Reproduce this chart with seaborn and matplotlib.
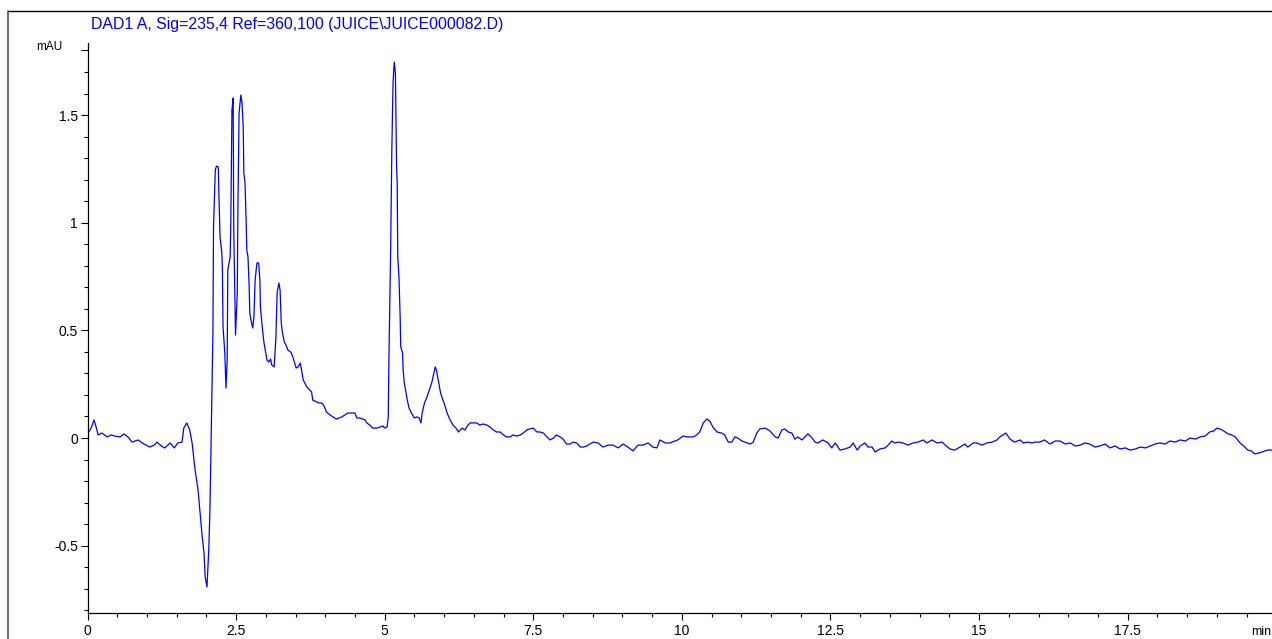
import numpy as np
import pandas as pd
import matplotlib
matplotlib.use("Agg")
import matplotlib.pyplot as plt
from matplotlib.lines import Line2D
from matplotlib.ticker import MultipleLocator
import seaborn as sns

# ---- data (retention time in min, absorbance in mAU) ----
time_min = [
    0.01, 0.06, 0.11, 0.14, 0.18, 0.24, 0.33, 0.40, 0.46, 0.55, 0.61, 0.68, 0.75, 0.85, 0.95,
    1.05, 1.12, 1.17, 1.24, 1.30, 1.39, 1.46, 1.52, 1.59, 1.62, 1.67, 1.72, 1.76, 1.81, 1.86,
    1.89, 1.93, 1.96, 1.98, 2.01, 2.04, 2.06, 2.09, 2.11, 2.12, 2.15, 2.17, 2.20, 2.21, 2.23,
    2.26, 2.27, 2.28, 2.31, 2.33, 2.35, 2.36, 2.40, 2.41, 2.43, 2.45, 2.46, 2.49, 2.52, 2.53,
    2.55, 2.58, 2.60, 2.62, 2.63, 2.65, 2.67, 2.68, 2.70, 2.72, 2.73, 2.76, 2.78, 2.80, 2.82,
    2.85, 2.88, 2.90, 2.91, 2.94, 2.95, 2.97, 3.00, 3.02, 3.05, 3.08, 3.10, 3.14, 3.15, 3.17,
    3.19, 3.22, 3.24, 3.26, 3.28, 3.31, 3.34, 3.37, 3.42, 3.46, 3.51, 3.54, 3.58, 3.60, 3.63,
    3.69, 3.77, 3.79, 3.86, 3.89, 3.94, 3.98, 4.02, 4.08, 4.13, 4.19, 4.23, 4.28, 4.33, 4.38,
    4.44, 4.50, 4.53, 4.58, 4.67, 4.70, 4.75, 4.80, 4.87, 4.92, 4.97, 5.00, 5.04, 5.06, 5.07,
    5.10, 5.12, 5.14, 5.16, 5.18, 5.20, 5.21, 5.22, 5.24, 5.26, 5.27, 5.30, 5.31, 5.33, 5.36,
    5.38, 5.41, 5.45, 5.50, 5.54, 5.58, 5.61, 5.63, 5.67, 5.71, 5.75, 5.79, 5.82, 5.85, 5.87,
    5.90, 5.94, 5.98, 6.01, 6.05, 6.10, 6.15, 6.20, 6.24, 6.30, 6.35, 6.40, 6.44, 6.49, 6.55,
    6.60, 6.66, 6.72, 6.77, 6.83, 6.88, 6.94, 7.00, 7.05, 7.11, 7.16, 7.22, 7.28, 7.33, 7.39,
    7.44, 7.50, 7.56, 7.61, 7.67, 7.73, 7.78, 7.84, 7.89, 7.95, 8.00, 8.06, 8.12, 8.17, 8.23,
    8.29, 8.34, 8.40, 8.45, 8.51, 8.59, 8.67, 8.76, 8.84, 8.93, 9.01, 9.09, 9.18, 9.26, 9.35,
    9.43, 9.51, 9.58, 9.63, 9.72, 9.80, 9.88, 9.93, 10.02, 10.10, 10.19, 10.25, 10.30, 10.36, 10.42,
    10.47, 10.52, 10.59, 10.67, 10.72, 10.78, 10.84, 10.89, 10.94, 11.01, 11.06, 11.15, 11.20, 11.26, 11.31,
    11.40, 11.48, 11.57, 11.62, 11.68, 11.73, 11.79, 11.85, 11.90, 11.95, 12.02, 12.07, 12.12, 12.19, 12.24,
    12.29, 12.37, 12.46, 12.52, 12.58, 12.66, 12.74, 12.83, 12.88, 12.95, 13.00, 13.08, 13.13, 13.20, 13.25,
    13.33, 13.42, 13.47, 13.53, 13.58, 13.64, 13.72, 13.80, 13.89, 13.97, 14.06, 14.12, 14.21, 14.29, 14.38,
    14.43, 14.51, 14.59, 14.68, 14.76, 14.81, 14.90, 14.96, 15.05, 15.13, 15.22, 15.30, 15.35, 15.40, 15.45,
    15.52, 15.60, 15.69, 15.74, 15.82, 15.89, 15.94, 16.02, 16.10, 16.19, 16.28, 16.36, 16.45, 16.53, 16.62,
    16.70, 16.78, 16.86, 16.95, 17.03, 17.12, 17.20, 17.29, 17.37, 17.46, 17.54, 17.63, 17.71, 17.80, 17.88,
    17.96, 18.04, 18.13, 18.21, 18.30, 18.38, 18.47, 18.55, 18.64, 18.72, 18.80, 18.88, 18.95, 19.00, 19.05,
    19.09, 19.14, 19.19, 19.25, 19.31, 19.39, 19.45, 19.52, 19.58, 19.64, 19.70, 19.76, 19.81, 19.86, 19.93,
]
absorbance_mau = [
    0.023, 0.046, 0.084, 0.056, 0.014, 0.023, 0.005, 0.014, 0.009, 0.005, 0.019, 0.005, -0.019, -0.009, -0.028,
    -0.042, -0.033, -0.019, -0.037, -0.046, -0.023, -0.046, -0.023, -0.019, 0.046, 0.070, 0.037, -0.023, -0.149, -0.242,
    -0.334, -0.460, -0.534, -0.646, -0.692, -0.520, -0.334, 0.176, 0.488, 0.980, 1.245, 1.263, 1.259, 1.138, 0.934,
    0.859, 0.780, 0.516, 0.395, 0.232, 0.362, 0.780, 0.841, 0.980, 1.523, 1.579, 0.980, 0.478, 0.673, 1.059,
    1.510, 1.593, 1.556, 1.444, 1.231, 1.184, 0.999, 0.873, 0.841, 0.701, 0.581, 0.534, 0.511, 0.562, 0.734,
    0.813, 0.813, 0.734, 0.604, 0.516, 0.488, 0.441, 0.395, 0.362, 0.353, 0.367, 0.339, 0.330, 0.376, 0.469,
    0.673, 0.720, 0.687, 0.534, 0.488, 0.446, 0.432, 0.409, 0.399, 0.372, 0.325, 0.330, 0.348, 0.316, 0.269,
    0.237, 0.214, 0.176, 0.167, 0.163, 0.163, 0.149, 0.121, 0.107, 0.098, 0.088, 0.093, 0.098, 0.107, 0.116,
    0.116, 0.116, 0.093, 0.093, 0.084, 0.070, 0.060, 0.046, 0.046, 0.051, 0.056, 0.046, 0.051, 0.098, 0.348,
    0.873, 1.338, 1.649, 1.746, 1.695, 1.259, 1.184, 0.841, 0.748, 0.562, 0.423, 0.395, 0.316, 0.255, 0.209,
    0.176, 0.139, 0.116, 0.093, 0.098, 0.093, 0.070, 0.116, 0.163, 0.190, 0.223, 0.255, 0.293, 0.330, 0.316,
    0.269, 0.209, 0.176, 0.153, 0.116, 0.084, 0.060, 0.046, 0.028, 0.046, 0.037, 0.060, 0.070, 0.070, 0.070,
    0.060, 0.065, 0.060, 0.051, 0.037, 0.028, 0.028, 0.014, 0.005, 0.005, 0.014, 0.009, 0.014, 0.023, 0.037,
    0.042, 0.046, 0.028, 0.028, 0.023, 0.005, -0.009, 0.000, 0.014, 0.005, -0.005, -0.028, -0.028, -0.019, -0.023,
    -0.042, -0.042, -0.037, -0.028, -0.019, -0.023, -0.042, -0.033, -0.033, -0.046, -0.028, -0.042, -0.060, -0.033, -0.033,
    -0.023, -0.042, -0.046, -0.009, -0.023, -0.023, -0.014, -0.009, 0.009, 0.005, 0.005, 0.014, 0.028, 0.070, 0.088,
    0.079, 0.051, 0.028, 0.023, 0.014, -0.019, -0.019, 0.005, 0.000, -0.014, -0.019, -0.028, -0.019, 0.023, 0.042,
    0.046, 0.033, 0.005, 0.000, 0.037, 0.042, 0.028, 0.023, -0.005, 0.005, -0.009, 0.005, 0.019, 0.000, -0.019,
    -0.023, -0.009, -0.023, -0.046, -0.023, -0.056, -0.051, -0.042, -0.023, -0.056, -0.037, -0.023, -0.042, -0.042, -0.065,
    -0.051, -0.046, -0.033, -0.014, -0.023, -0.019, -0.023, -0.033, -0.023, -0.019, -0.009, -0.023, -0.009, -0.023, -0.019,
    -0.033, -0.051, -0.056, -0.042, -0.028, -0.042, -0.023, -0.023, -0.033, -0.023, -0.019, -0.009, 0.005, 0.014, 0.023,
    -0.005, -0.019, -0.009, -0.023, -0.019, -0.023, -0.019, -0.019, -0.009, -0.028, -0.014, -0.014, -0.028, -0.023, -0.037,
    -0.033, -0.023, -0.028, -0.042, -0.037, -0.028, -0.046, -0.037, -0.051, -0.046, -0.056, -0.051, -0.042, -0.046, -0.037,
    -0.028, -0.023, -0.028, -0.014, -0.019, -0.009, -0.014, 0.000, -0.005, 0.005, 0.009, 0.028, 0.033, 0.046, 0.042,
    0.037, 0.028, 0.019, 0.014, 0.005, -0.023, -0.037, -0.056, -0.060, -0.074, -0.070, -0.065, -0.060, -0.056, -0.056,
]

x_major_ticks = [0, 2.5, 5, 7.5, 10, 12.5, 15, 17.5]
x_major_labels = ["0", "2.5", "5", "7.5", "10", "12.5", "15", "17.5"]
y_major_ticks = [-0.5, 0, 0.5, 1, 1.5, 1.8]
y_major_labels = ["-0.5", "0", "0.5", "1", "1.5", ""]
y_unit = "mAU"
title_text = "DAD1 A, Sig=235,4 Ref=360,100 (JUICE\\JUICE000082.D)"
x_unit = "min"

df = pd.DataFrame({"t": time_min, "mAU": absorbance_mau})

sns.set_style("ticks")
plt.rcParams["font.family"] = ["Liberation Sans", "DejaVu Sans"]

W, H = 1272, 639
fig = plt.figure(figsize=(W / 100, H / 100), dpi=100)
ax = fig.add_axes([87.5 / W, (H - 613) / H, 1 - 87.5 / W, (613 - 43) / H])

sns.lineplot(data=df, x="t", y="mAU", ax=ax, color="#0000ff", linewidth=0.9,
             estimator=None, sort=False)

ax.set_xlim(0, (W - 87.5) / 59.44)
ax.set_ylim((438 - 613) / 215.3, (438 - 43) / 215.3)

ax.set_xticks(x_major_ticks)
ax.set_xticklabels(x_major_labels)
ax.xaxis.set_minor_locator(MultipleLocator(0.5))
ax.set_yticks(y_major_ticks)
ax.set_yticklabels(y_major_labels)
ax.yaxis.set_minor_locator(MultipleLocator(0.1))

ax.tick_params(axis="both", which="major", direction="out", length=5, width=0.8,
               color="black", labelsize=10, labelcolor="black", pad=2)
ax.tick_params(axis="both", which="minor", direction="out", length=3, width=0.8,
               color="black")
ax.tick_params(axis="x", which="major", pad=3)

for s in ["top", "right"]:
    ax.spines[s].set_visible(False)
for s in ["left", "bottom"]:
    ax.spines[s].set_color("black")
    ax.spines[s].set_linewidth(0.9)

ax.set_xlabel("")
ax.set_ylabel("")

fig.text(91 / W, 1 - 25 / H, title_text, color="#0000ff", fontsize=11.4,
         ha="left", va="center")
fig.text(62 / W, 1 - 47.5 / H, y_unit, color="black", fontsize=8.5,
         ha="right", va="center")
fig.text(1271 / W, 1 - 632 / H, x_unit, color="black", fontsize=9,
         ha="right", va="center")

# outer frame (left and top edges)
fig.add_artist(Line2D([7.5 / W, 7.5 / W], [0, 1 - 10.5 / H], transform=fig.transFigure,
                      color="#555555", linewidth=1.2))
fig.add_artist(Line2D([7.5 / W, 1], [1 - 10.5 / H, 1 - 10.5 / H], transform=fig.transFigure,
                      color="black", linewidth=1.0))

fig.savefig("out.png", dpi=100, facecolor="white")
